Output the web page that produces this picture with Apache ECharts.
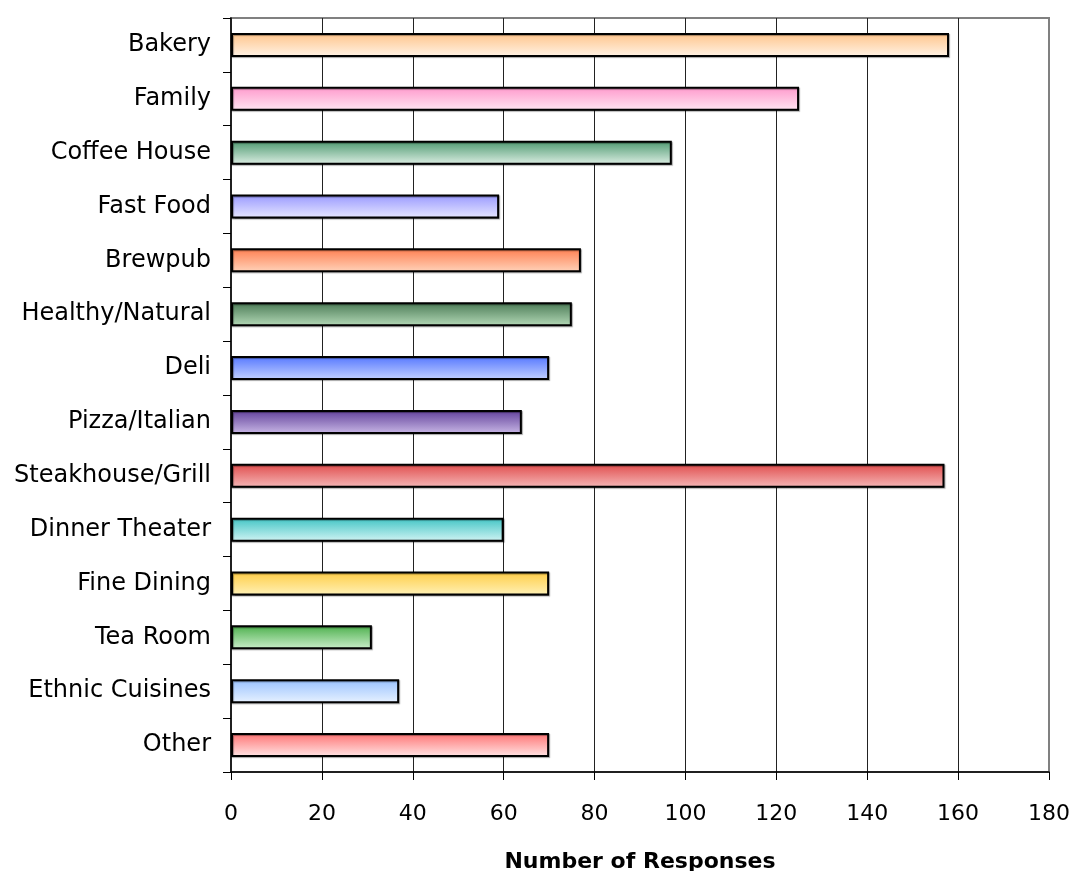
<!DOCTYPE html>
<html>
<head>
<meta charset="utf-8">
<script src="https://cdn.jsdelivr.net/npm/echarts@6/dist/echarts.min.js"></script>
<style>
html,body{margin:0;padding:0;background:#fff;}
#chart{width:1073px;height:871px;}
</style>
</head>
<body>
<div id="chart"></div>
<script>
const categories = ["Bakery","Family","Coffee House","Fast Food","Brewpub","Healthy/Natural","Deli","Pizza/Italian","Steakhouse/Grill","Dinner Theater","Fine Dining","Tea Room","Ethnic Cuisines","Other"];
const responses = [158,125,97,59,77,75,70,64,157,60,70,31,37,70];
const topColors = ["#FFC48A","#FF99CC","#4D9970","#9999FF","#FF7F50","#4A7A55","#5577FF","#603F99","#E04C4C","#40C4C4","#FFCC44","#4CB04C","#99C2FF","#FF7373"];
const bottomColors = ["#FFF3E6","#FFE6F2","#DDEEE4","#E8E8FF","#FFD4BC","#B5DAB8","#C4D2FF","#C9B8E6","#F5B8B8","#D2F4F4","#FFF2B8","#CDEFCD","#E8F2FF","#FFE6E6"];
const xTicks = [0,20,40,60,80,100,120,140,160,180];

const chart = echarts.init(document.getElementById('chart'));
const font = "'DejaVu Sans', sans-serif";
chart.setOption({
  animation: false,
  grid: {left: 231, right: 24, top: 18, bottom: 99, show: true, borderColor: '#808080', borderWidth: 2, containLabel: false, outerBoundsMode: 'none'},
  xAxis: {
    type: 'value', min: xTicks[0], max: xTicks[xTicks.length-1], interval: 20,
    name: 'Number of Responses', nameLocation: 'middle', nameGap: 79,
    nameTextStyle: {fontFamily: font, fontSize: 22, fontWeight: 'bold', color: '#000'},
    axisLine: {show: true, lineStyle: {color: '#000', width: 1.5}},
    axisTick: {show: true, inside: false, length: 8, lineStyle: {color: '#000'}},
    axisLabel: {fontFamily: font, fontSize: 22, color: '#000', margin: 31},
    splitLine: {show: true, showMinLine: false, showMaxLine: false, lineStyle: {color: '#222', width: 1}}
  },
  yAxis: {
    type: 'category', data: categories, inverse: true,
    axisLine: {show: true, lineStyle: {color: '#000', width: 1.5}},
    axisTick: {show: true, inside: false, length: 8, alignWithLabel: false, lineStyle: {color: '#000'}},
    axisLabel: {fontFamily: font, fontSize: 24, color: '#000', margin: 20},
    splitLine: {show: false}
  },
  series: [{
    type: 'bar',
    barWidth: 24,
    data: responses.map((v, i) => ({
      value: v,
      itemStyle: {
        color: new echarts.graphic.LinearGradient(0, 0, 0, 1, [
          {offset: 0, color: topColors[i]},
          {offset: 1, color: bottomColors[i]}
        ]),
        borderColor: '#000', borderWidth: 2,
        shadowColor: 'rgba(0,0,0,0.35)', shadowOffsetX: 1, shadowOffsetY: 1, shadowBlur: 1
      }
    }))
  }]
});
</script>
</body>
</html>
